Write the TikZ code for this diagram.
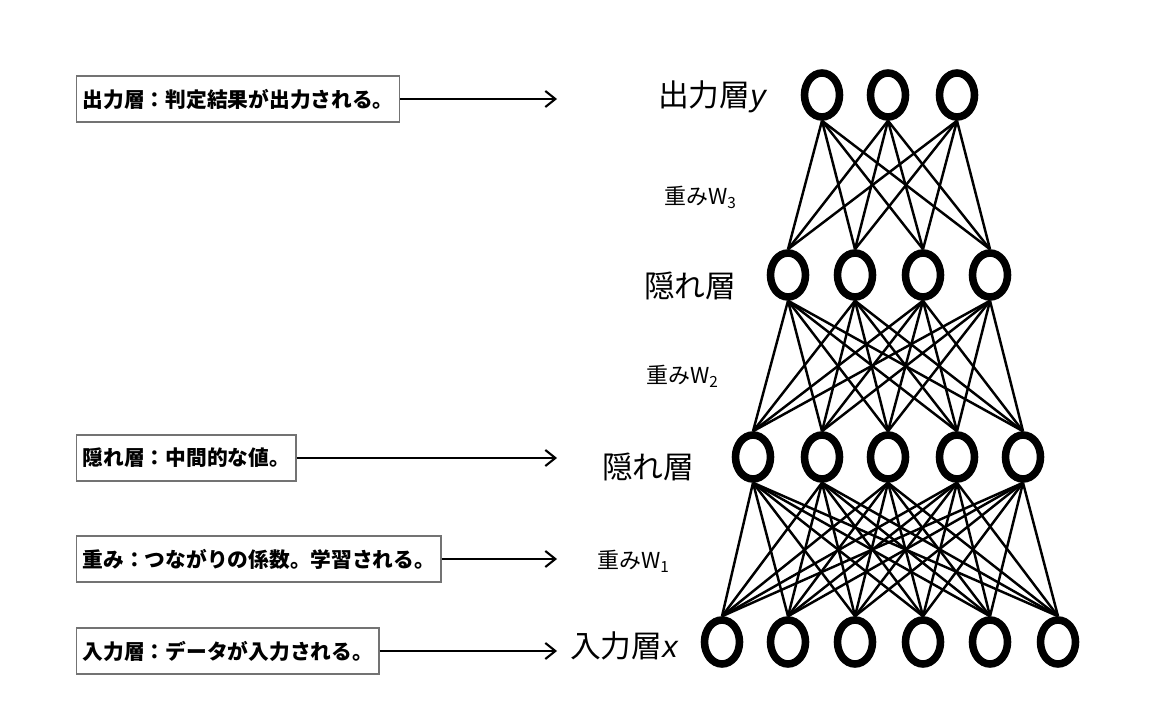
\documentclass[tikz,border=0pt]{standalone}
\usepackage{fontspec}
\setmainfont{Noto Sans CJK JP}
\newfontfamily\latinit{Liberation Sans}
\usetikzlibrary{positioning, arrows.meta, shapes.geometric}

\tikzset{
  neuron/.style={ellipse, draw, line width=4.3pt, fill=white, minimum width=0.7cm, minimum height=0.88cm, inner sep=0pt},
  link/.style={line width=1.4pt},
  notebox/.style={rectangle, draw=black!55, line width=0.8pt, fill=white, inner xsep=0.12cm, minimum height=0.92cm, font=\bfseries\fontsize{11.8}{14}\selectfont},
  layerlabel/.style={font=\fontsize{17.5}{20}\selectfont},
  weightlabel/.style={font=\fontsize{12.5}{15}\selectfont},
  pointer/.style={-{Straight Barb[length=0.2cm,width=0.32cm]}, line width=1.2pt}
}

\begin{document}
\begin{tikzpicture}[x=0.02cm, y=-0.02cm]
    \useasboundingbox (0,0) rectangle (1152,709);

    % layers
    \foreach \xx [count=\i] in {822,888,957} \node[neuron] (out\i) at (\xx,95) {};
    \foreach \xx [count=\i] in {788,855,923,990} \node[neuron] (hidB\i) at (\xx,275) {};
    \foreach \xx [count=\i] in {753,822,888,957,1023} \node[neuron] (hidA\i) at (\xx,457) {};
    \foreach \xx [count=\i] in {722,788,855,923,990,1058} \node[neuron] (in\i) at (\xx,642) {};

    % weights
    \foreach \i in {1,...,3} \foreach \j in {1,...,4} \draw[link] (out\i.south) -- (hidB\j.north);
    \foreach \i in {1,...,4} \foreach \j in {1,...,5} \draw[link] (hidB\i.south) -- (hidA\j.north);
    \foreach \i in {1,...,5} \foreach \j in {1,...,6} \draw[link] (hidA\i.south) -- (in\j.north);

    % layer names
    \node[layerlabel, anchor=east] (ylabel) at (772,97) {出力層{\latinit\itshape y}};
    \node[weightlabel, anchor=west] (wthree) at (658,197) {重みW\textsubscript{3}};
    \node[layerlabel, anchor=west] (hidBlabel) at (638,286) {隠れ層};
    \node[weightlabel, anchor=west] (wtwo) at (640,376) {重みW\textsubscript{2}};
    \node[layerlabel, anchor=west] (hidAlabel) at (596,467) {隠れ層};
    \node[weightlabel, anchor=west] (wone) at (591,561) {重みW\textsubscript{1}};
    \node[layerlabel, anchor=west] (xlabel) at (564,646) {入力層{\latinit\itshape x}};

    % notes
    \node[notebox, anchor=west] (outnote) at (76,99) {出力層：判定結果が出力される。};
    \node[notebox, anchor=west] (hidnote) at (76,458) {隠れ層：中間的な値。};
    \node[notebox, anchor=west] (wnote) at (76,559) {重み：つながりの係数。学習される。};
    \node[notebox, anchor=west] (innote) at (76,651) {入力層：データが入力される。};

    \coordinate (outtip) at (557,99);
    \coordinate (hidtip) at (557,458);
    \coordinate (wtip) at (557,559);
    \coordinate (intip) at (557,651);

    \draw[pointer] (outnote) -- (outtip);
    \draw[pointer] (hidnote) -- (hidtip);
    \draw[pointer] (wnote) -- (wtip);
    \draw[pointer] (innote) -- (intip);
\end{tikzpicture}
\end{document}
